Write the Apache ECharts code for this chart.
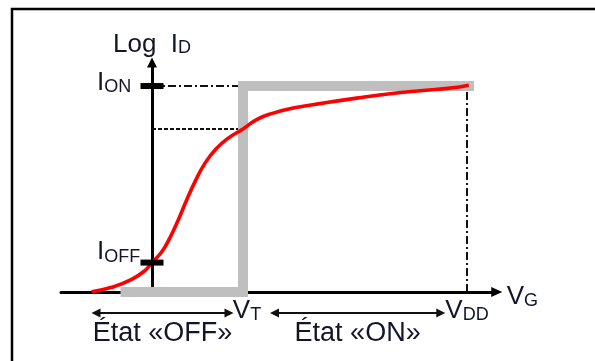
<!DOCTYPE html>
<html>
<head>
<meta charset="utf-8">
<script src="https://cdn.jsdelivr.net/npm/echarts@6/dist/echarts.min.js"></script>
<style>
  html, body { margin: 0; padding: 0; background: #ffffff; }
  #chart { width: 595px; height: 361px; }
</style>
</head>
<body>
<div id="chart"></div>
<script>
// Gate voltages (V): threshold and supply
const VT = 0.52;
const VDD = 1.8;

// Drain current levels, log10(ID / A)
const LOG_ION = -3;
const LOG_IOFF = -9;
const LOG_ID_AT_VT = -4.46;

// Transfer characteristic of a real MOS transistor
const vgReal = [-0.345, -0.23, -0.116, -0.04, 0, 0.055, 0.103, 0.15, 0.198, 0.246, 0.303, 0.37,
  0.436, 0.52, 0.598, 0.693, 0.807, 0.979, 1.17, 1.36, 1.55, 1.703, 1.81];
const logIdReal = [-9.99, -9.84, -9.57, -9.27, -9.0, -8.64, -8.15, -7.55, -6.87, -6.25, -5.62, -5.11,
  -4.77, -4.46, -4.14, -3.92, -3.75, -3.58, -3.41, -3.26, -3.15, -3.07, -2.97];

// Ideal switch: blocked below VT, fully on above it
const vgIdeal = [-0.18, VT, VT, 1.84];
const logIdIdeal = [-10, -10, LOG_ION, LOG_ION];

// Operating regions along the gate-voltage axis
const stateNames = ['État «OFF»', 'État «ON»'];
const stateSpans = [[-0.32, 0.44], [0.7, 1.65]];

// Axis extents
const vgRange = [-0.52, 1.97];
const logIdRange = [-10, -2.2];

const FONT = "'Liberation Sans', Arial, Helvetica, sans-serif";
const INK = '#121628';

function richStyles() {
  const base = { fontFamily: FONT, color: INK, verticalAlign: 'bottom' };
  return {
    m:  Object.assign({ fontSize: 26, lineHeight: 30 }, base),
    s:  Object.assign({ fontSize: 18, lineHeight: 12 }, base),
    mt: Object.assign({ fontSize: 26, lineHeight: 30, padding: [0, 0, 0, 8] }, base),
    mo: Object.assign({ fontSize: 26, lineHeight: 30, padding: [0, 0, 8, 0] }, base),
    so: Object.assign({ fontSize: 18, lineHeight: 12, padding: [0, 0, 7, 0] }, base)
  };
}

const zip = (xs, ys) => xs.map((x, i) => [x, ys[i]]);
const stateRow = -10.71;

const chart = echarts.init(document.getElementById('chart'), null, { renderer: 'canvas' });

const option = {
  animation: false,
  backgroundColor: '#ffffff',
  textStyle: { fontFamily: FONT, color: INK },
  grid: { left: 61, top: 62.5, width: 435.75, height: 229.5, containLabel: false },
  xAxis: {
    type: 'value',
    min: vgRange[0],
    max: vgRange[1],
    name: '{m|V}{s|G}',
    nameLocation: 'end',
    nameGap: 10,
    nameTextStyle: { rich: richStyles(), padding: [6, 0, 0, 0] },
    axisLine: {
      show: true,
      onZero: true,
      symbol: ['none', 'triangle'],
      symbolSize: [10, 11],
      lineStyle: { color: '#000000', width: 3 }
    },
    axisTick: { show: false },
    splitLine: { show: false },
    axisLabel: {
      show: true,
      customValues: [VT, VDD],
      margin: 2,
      formatter: (v) => (v === VT ? '{mt|V}{s|T}' : '{m|V}{s|DD}'),
      rich: richStyles()
    }
  },
  yAxis: {
    type: 'value',
    min: logIdRange[0],
    max: logIdRange[1],
    name: '{m|Log  I}{s|D}',
    nameLocation: 'end',
    nameGap: 5,
    nameTextStyle: { rich: richStyles() },
    axisLine: {
      show: true,
      onZero: true,
      symbol: ['none', 'triangle'],
      symbolSize: [10, 10],
      lineStyle: { color: '#000000', width: 3 }
    },
    axisTick: { show: false },
    splitLine: { show: false },
    axisLabel: {
      show: true,
      customValues: [LOG_ION, LOG_IOFF],
      // labels are laid out from the grid's left edge
      align: 'left',
      margin: -36,
      padding: [0, 0, 10, 0],
      formatter: (v) => (v === LOG_ION ? '{m|I}{s|ON}' : '{mo|I}{so|OFF}'),
      rich: richStyles()
    }
  },
  graphic: [{
    type: 'polyline',
    shape: { points: [[12, 361], [12, 9], [595, 9]] },
    style: { stroke: '#000000', lineWidth: 2.5, fill: null },
    silent: true
  }],
  series: [
    {
      name: 'ION guide',
      type: 'line',
      data: [[0, LOG_ION], [VT, LOG_ION]],
      symbol: 'none', clip: false, silent: true, z: 2,
      lineStyle: { color: '#111111', width: 2, type: [8, 3, 2, 3] }
    },
    {
      name: 'ID at VT guide',
      type: 'line',
      data: [[0, LOG_ID_AT_VT], [VT, LOG_ID_AT_VT]],
      symbol: 'none', clip: false, silent: true, z: 2,
      lineStyle: { color: '#111111', width: 2, type: [4, 2] }
    },
    {
      name: 'VDD guide',
      type: 'line',
      data: [[VDD, logIdRange[0]], [VDD, LOG_ION]],
      symbol: 'none', clip: false, silent: true, z: 2,
      lineStyle: { color: '#111111', width: 2, type: [8, 3, 2, 3] }
    },
    {
      name: 'Ideal switch',
      type: 'line',
      data: zip(vgIdeal, logIdIdeal),
      symbol: 'none', clip: false, silent: true, z: 3,
      lineStyle: { color: '#bfbfbf', width: 10, cap: 'butt', join: 'miter' }
    },
    {
      name: 'MOS transistor',
      type: 'line',
      data: zip(vgReal, logIdReal),
      smooth: 0.5,
      symbol: 'none', clip: false, silent: true, z: 4,
      lineStyle: { color: '#ff0000', width: 3.6, join: 'round' }
    },
    {
      name: 'Current marks',
      type: 'scatter',
      data: [[0, LOG_ION], [0, LOG_IOFF]],
      symbol: 'rect',
      symbolSize: [23, 6],
      itemStyle: { color: '#000000', opacity: 1 },
      clip: false, silent: true, z: 5
    },
    {
      name: 'Operating regions',
      type: 'lines',
      coordinateSystem: 'cartesian2d',
      clip: false,
      silent: true,
      z: 5,
      symbol: ['triangle', 'triangle'],
      symbolSize: [9, 9],
      lineStyle: { color: '#111111', width: 2, opacity: 1 },
      label: {
        show: true,
        position: 'insideMiddleBottom',
        distance: 7,
        formatter: '{b}',
        fontSize: 27,
        fontFamily: FONT,
        color: INK
      },
      data: stateSpans.map((s, i) => ({
        name: stateNames[i],
        coords: [[s[0], stateRow], [s[1], stateRow]]
      }))
    }
  ]
};

chart.setOption(option);
</script>
</body>
</html>
